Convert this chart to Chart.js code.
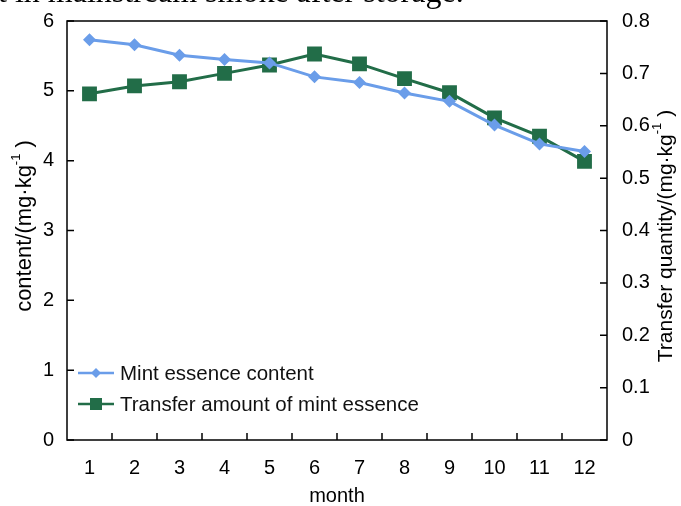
<!DOCTYPE html>
<html>
<head>
<meta charset="utf-8">
<script src="https://cdn.jsdelivr.net/npm/chart.js@4.4.1/dist/chart.umd.min.js"></script>
<style>
  html, body { margin: 0; padding: 0; background: #fff; }
  #wrap { position: relative; width: 681px; height: 506px; overflow: hidden; }
  #cut { position: absolute; left: -2px; top: -27px; font: 32px "Liberation Serif", serif; color: #000; white-space: nowrap; }
</style>
</head>
<body>
<div id="wrap">
  <div id="cut">t in mainstream smoke after storage.</div>
  <canvas id="c" width="681" height="506"></canvas>
</div>
<script>
const months = ['1', '2', '3', '4', '5', '6', '7', '8', '9', '10', '11', '12'];
const mintContent = [5.73, 5.66, 5.51, 5.45, 5.40, 5.20, 5.12, 4.97, 4.85, 4.51, 4.24, 4.13];
const transferAmount = [0.661, 0.676, 0.684, 0.700, 0.716, 0.737, 0.718, 0.690, 0.663, 0.615, 0.580, 0.532];
const leftTicks = [0, 1, 2, 3, 4, 5, 6];
const rightTicks = [0, 0.1, 0.2, 0.3, 0.4, 0.5, 0.6, 0.7, 0.8];

const BLUE = '#6a9de9';
const GREEN = '#226d48';
const FONT = "'Liberation Sans', Arial, sans-serif";

// rotated title with a small raised "-1"
function vTitle(ctx, x, y, size, main) {
  const sup = Math.round(size * 0.6);
  ctx.save();
  ctx.translate(x, y);
  ctx.rotate(-Math.PI / 2);
  ctx.font = size + 'px ' + FONT;
  const w1 = ctx.measureText(main).width;
  const w3 = ctx.measureText(' )').width;
  ctx.font = sup + 'px ' + FONT;
  const w2 = ctx.measureText('-1').width;
  let p = -(w1 + w2 + w3) / 2;
  ctx.textAlign = 'left';
  ctx.textBaseline = 'middle';
  ctx.font = size + 'px ' + FONT;
  ctx.fillText(main, p, 0);
  p += w1;
  ctx.font = sup + 'px ' + FONT;
  ctx.fillText('-1', p, -size * 0.4);
  p += w2;
  ctx.font = size + 'px ' + FONT;
  ctx.fillText(' )', p, 0);
  ctx.restore();
}

// frame, inward tick marks, axis titles and legend
const decor = {
  id: 'decor',
  afterDraw(chart) {
    const { ctx, chartArea: a, scales } = chart;
    ctx.save();
    ctx.strokeStyle = '#000';
    ctx.lineWidth = 1.5;
    ctx.strokeRect(a.left, a.top, a.right - a.left, a.bottom - a.top);

    ctx.beginPath();
    leftTicks.forEach(v => {
      const y = scales.y.getPixelForValue(v);
      ctx.moveTo(a.left, y); ctx.lineTo(a.left + 7, y);
    });
    rightTicks.forEach(v => {
      const y = scales.y1.getPixelForValue(v);
      ctx.moveTo(a.right, y); ctx.lineTo(a.right - 7, y);
    });
    for (let i = 1; i < months.length; i++) {
      const x = (scales.x.getPixelForTick(i - 1) + scales.x.getPixelForTick(i)) / 2;
      ctx.moveTo(x, a.bottom); ctx.lineTo(x, a.bottom - 7);
    }
    ctx.stroke();

    ctx.fillStyle = '#000';
    ctx.font = '20px ' + FONT;
    ctx.textAlign = 'center';
    ctx.textBaseline = 'middle';
    ctx.fillText('month', (a.left + a.right) / 2, 496);

    vTitle(ctx, 25, 226, 22, 'content/(mg\u00b7kg');
    vTitle(ctx, 666, 236, 21, 'Transfer quantity/(mg\u00b7kg');

    // legend
    const items = [
      { label: 'Mint essence content', color: BLUE, shape: 'diamond', y: 373 },
      { label: 'Transfer amount of mint essence', color: GREEN, shape: 'square', y: 404 }
    ];
    ctx.font = '20.5px ' + FONT;
    ctx.textAlign = 'left';
    items.forEach(it => {
      ctx.strokeStyle = it.color;
      ctx.fillStyle = it.color;
      ctx.lineWidth = 2.5;
      ctx.beginPath();
      ctx.moveTo(78, it.y); ctx.lineTo(114, it.y);
      ctx.stroke();
      ctx.beginPath();
      if (it.shape === 'diamond') {
        ctx.moveTo(96, it.y - 5); ctx.lineTo(101, it.y); ctx.lineTo(96, it.y + 5); ctx.lineTo(91, it.y);
        ctx.closePath();
      } else {
        ctx.rect(90, it.y - 6, 12, 12);
      }
      ctx.fill();
      ctx.fillStyle = '#111';
      ctx.fillText(it.label, 120, it.y + 1);
    });
    ctx.restore();
  }
};

new Chart(document.getElementById('c'), {
  type: 'line',
  data: {
    labels: months,
    datasets: [
      {
        label: 'Mint essence content',
        data: mintContent,
        yAxisID: 'y',
        borderColor: BLUE,
        backgroundColor: BLUE,
        borderWidth: 3,
        pointStyle: 'rectRot',
        pointRadius: 6.5,
        pointBorderWidth: 0,
        tension: 0
      },
      {
        label: 'Transfer amount of mint essence',
        data: transferAmount,
        yAxisID: 'y1',
        borderColor: GREEN,
        backgroundColor: GREEN,
        borderWidth: 3,
        pointStyle: 'rect',
        pointRadius: 10.5,
        pointBorderWidth: 0,
        tension: 0
      }
    ]
  },
  options: {
    responsive: false,
    animation: false,
    layout: { padding: { top: 21, left: 0, right: 0, bottom: 0 } },
    plugins: { legend: { display: false }, tooltip: { enabled: false } },
    scales: {
      x: {
        offset: true,
        grid: { display: false },
        border: { display: false },
        ticks: { color: '#000', font: { family: FONT, size: 20 }, padding: 8, maxRotation: 0 },
        afterFit(s) { s.height = 66; }
      },
      y: {
        position: 'left',
        min: 0, max: 6,
        grid: { display: false },
        border: { display: false },
        ticks: { stepSize: 1, color: '#000', font: { family: FONT, size: 20 }, padding: 5 },
        afterFit(s) { s.width = 67; }
      },
      y1: {
        position: 'right',
        min: 0, max: 0.8,
        grid: { display: false },
        border: { display: false },
        ticks: {
          stepSize: 0.1, color: '#000', font: { family: FONT, size: 20 }, padding: 7,
          callback: v => (Math.abs(v) < 1e-9 ? '0' : v.toFixed(1))
        },
        afterFit(s) { s.width = 74; }
      }
    }
  },
  plugins: [decor]
});
</script>
</body>
</html>
